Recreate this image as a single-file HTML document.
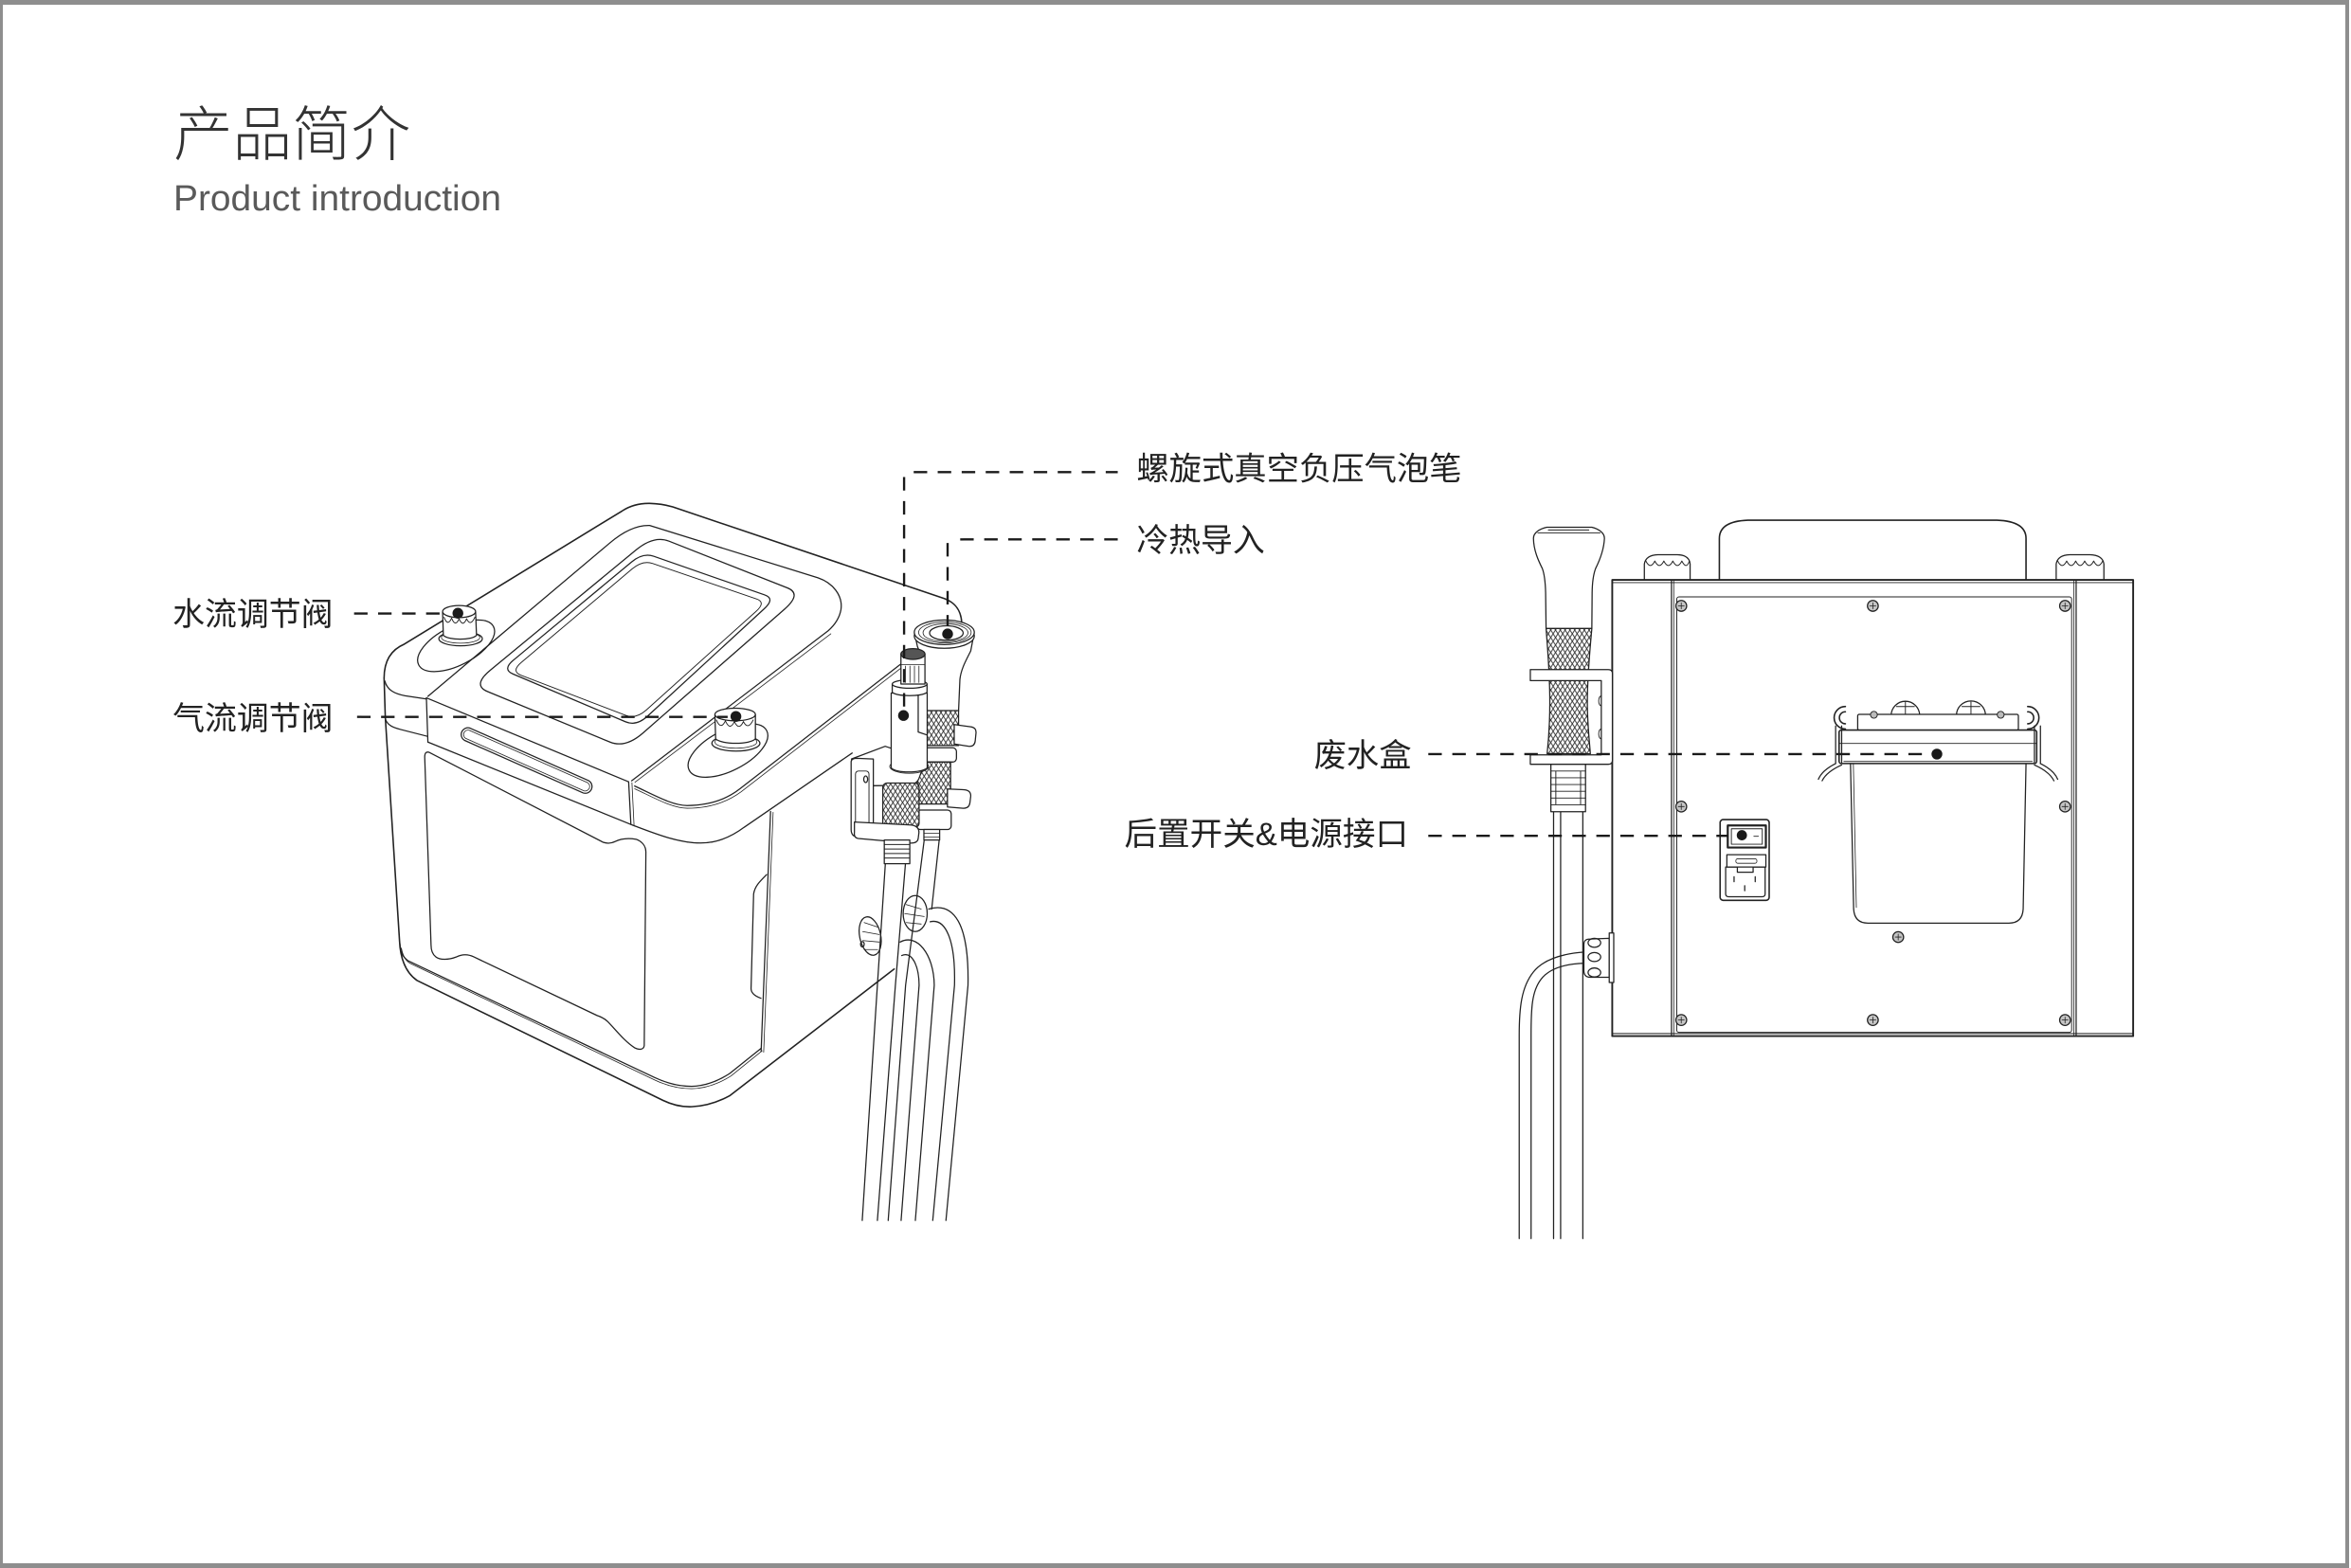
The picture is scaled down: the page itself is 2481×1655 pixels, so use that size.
<!DOCTYPE html>
<html><head><meta charset="utf-8">
<style>
html,body{margin:0;padding:0;background:#fff;}
body{width:2481px;height:1655px;position:relative;overflow:hidden;}
#frame{position:absolute;left:0;top:0;width:2472px;height:1645px;border-top:5px solid #8e8e8e;border-left:3px solid #8e8e8e;border-right:4px solid #8e8e8e;border-bottom:5px solid #8e8e8e;}
svg{position:absolute;left:0;top:0;}
.t{font-family:"Liberation Sans","Noto Sans CJK SC",sans-serif;}
</style></head><body>
<div id="frame"></div>
<svg width="2481" height="1655" viewBox="0 0 1567 1045.3" xmlns="http://www.w3.org/2000/svg">
<defs>
<pattern id="kn" patternUnits="userSpaceOnUse" width="3.2" height="5">
<rect width="3.2" height="5" fill="#fff"/>
<path d="M0 0 L3.2 5 M3.2 0 L0 5" stroke="#333" stroke-width="0.6" fill="none"/>
</pattern>
</defs>

<!-- Titles -->
<text class="t" x="115.6" y="103.5" font-size="40" font-weight="300" fill="#333" textLength="158" lengthAdjust="spacingAndGlyphs">产品简介</text>
<text class="t" x="115.6" y="140.2" font-size="24" fill="#5a5a5a" textLength="218.5" lengthAdjust="spacingAndGlyphs">Product introduction</text>

<!-- Labels -->
<g class="t" font-size="21.5" fill="#222">
<text x="115" y="416.8" textLength="107" lengthAdjust="spacingAndGlyphs">水流调节阀</text>
<text x="115" y="486.5" textLength="107" lengthAdjust="spacingAndGlyphs">气流调节阀</text>
<text x="757.5" y="320" textLength="216.8" lengthAdjust="spacingAndGlyphs">螺旋式真空负压气泡笔</text>
<text x="757.5" y="367.5" textLength="85.5" lengthAdjust="spacingAndGlyphs">冷热导入</text>
<text x="875.8" y="511" textLength="65" lengthAdjust="spacingAndGlyphs">废水盒</text>
<text x="749.4" y="563.5" textLength="189.2" lengthAdjust="spacingAndGlyphs">后置开关&amp;电源接口</text>
</g>

<!-- ============ LEFT DEVICE ============ -->
<g fill="none" stroke="#222" stroke-width="0.8" stroke-linejoin="round" stroke-linecap="round">
<path stroke-width="1" d="M256 452 C256 440 261 433 269.5 429.4 L414.7 340.6 C421 336.5 427 335.5 433 335.6 C438 335.7 443 336.4 448.4 337.9 L629.4 399 C636 401.5 640.5 406 641 415"/>
<path stroke-width="1" d="M256 452 L256.8 478 L266.3 627.3 C266.8 638 270 648 277.9 653.6 L442 733.6 C449 737 455 738 461 737.8 C469 737.5 478 735 486.3 730.5 L596 646"/>
<path d="M266.5 629 C267 635 268.5 638 272 640.5 L436 718.2 C444 722 452 724.2 461 724.2 C470 724 478 721 486.3 715.7 L507.3 698.9"/>
<path stroke-width="0.5" d="M267.5 632 C268.5 637 270 640 273 642 L436.5 720 C444.5 723.8 452 725.8 461 725.8 C470.5 725.6 479 722.5 487.3 717.2 L508 700.5"/>
<path d="M256.5 454 C258 460 263 462.5 270 463.8 L284.2 466"/>
<path d="M256.8 479 C258 483.5 262 485 267 486.3 L284.6 490.8"/>
<path d="M284.2 465.2 L419 521.2"/>
<path d="M285.2 494.7 L420.5 549.6"/>
<path d="M284.2 465.2 L285.2 494.7"/>
<path d="M419 521.2 L420.5 549.6"/>
<path stroke-width="0.5" d="M421.2 521.8 L422.6 550.2"/>
<path d="M313.3 485.4 L392.3 520.4 A4.5 4.5 0 0 1 388.7 528.6 L309.7 493.6 A4.5 4.5 0 0 1 313.3 485.4 Z"/>
<path stroke-width="0.5" d="M312.7 486.8 L391.7 521.8 A3 3 0 0 1 389.3 527.2 L310.3 492.2 A3 3 0 0 1 312.7 486.8 Z"/>
<path d="M285.2 464.2 L406.3 362.1 C414 355.5 423 350 433 350.3 L545.2 385.2 C555 388.5 562 397 560.5 406.5 C559.5 412 556.5 416.5 552 420.5 L421 520.5"/>
<path stroke-width="0.5" d="M553.8 422.5 L423.2 521.5"/>
<path d="M326.8 446.8 L423.7 366.8 Q435.8 356.8 445.7 360.7 L524.8 391.9 Q534.7 395.8 522.9 406.1 L428.6 488.6 Q416.8 498.9 406.6 494.7 L324.9 461 Q314.7 456.8 326.8 446.8 Z"/>
<path d="M342.2 440.1 L421 374.6 Q428.5 368.4 435.6 370.8 L509.7 396.6 Q516.8 399 509.4 405.8 L431.6 477.4 Q424.2 484.2 417 481.2 L341.9 449.3 Q334.7 446.3 342.2 440.1 Z"/>
<path stroke-width="0.6" d="M347.5 441.6 L421.3 379.3 Q428.3 373.4 434.9 375.6 L504.2 399.3 Q510.8 401.5 503.8 407.7 L430.8 473.3 Q423.8 479.5 417.1 476.9 L347.2 450.1 Q340.5 447.5 347.5 441.6 Z"/>
<path d="M423 524 C436 530 448 537 458 537 C472 537 484 533 493 526 L600 443 C615 432 632 422 641 415"/>
<path stroke-width="0.5" d="M423 525.8 C436 531.8 448 538.8 458 538.8 C472 538.8 484.5 534.8 494 527.8 L601 445"/>
<path d="M421 549.8 C436 555.5 452 562 467 562 C478 562 488 557.5 496 551.5 L568 502"/>
<path d="M513.6 541 L507.3 701"/>
<path stroke-width="0.5" d="M515.3 541.5 L509 701.5"/>
<path d="M511 583 C506 588 503 591 502.3 596 L500.6 659 C500.6 662 503 664 507.2 665.5"/>
<path d="M286 501.5 L402 561.5 C405 562.5 408 562 410 561 C414 559 418 558.5 424 559.5 C428 561 430.5 564 430.5 568 L429.4 697 C429 700 426 700 423 698.5 C416 694 410 686 405 681 C403 679 401 678 398 677 L315.8 637.9 C312 636 308 636 304 638 C299 640 293 640 290.5 637.9 C288 636 287.3 633 287.3 630 L283.1 505 C283 502 284 501 286 501.5 Z"/>
<ellipse cx="304" cy="430.5" rx="28" ry="13" transform="rotate(-27 304 430.5)"/>
<ellipse cx="307" cy="425.8" rx="14.5" ry="4.7" fill="#fff"/>
<ellipse cx="307" cy="425" rx="12.8" ry="3.8" stroke-width="0.5"/>
<path fill="#fff" d="M295 408 L295.5 423.5 C299 427 314.5 427 317.6 423.5 L317 408 Z"/>
<ellipse cx="306" cy="407.7" rx="11" ry="4" fill="#fff"/>
<path stroke-width="0.6" d="M296 411.5 Q298.5 418 301 412 Q303.5 418.5 306 412.5 Q308.5 418.5 311 412.5 Q313.5 418 316.5 411.5"/>
<ellipse cx="485.2" cy="500.3" rx="29" ry="13.5" transform="rotate(-27 485.2 500.3)"/>
<ellipse cx="490.5" cy="495.5" rx="16" ry="5.2" fill="#fff"/>
<ellipse cx="490.5" cy="494.6" rx="14" ry="4.2" stroke-width="0.5"/>
<path fill="#fff" d="M476.5 476.5 L477 492.5 C481 496.5 500 496.5 503.5 492.5 L503.5 476.5 Z"/>
<ellipse cx="490" cy="476.3" rx="13.5" ry="4.2" fill="#fff"/>
<path stroke-width="0.6" d="M477.5 480 Q480.5 487 483.5 480.5 Q486.5 487.5 489.5 481 Q492.5 487.5 495.5 481 Q498.5 487 502 480"/>

<ellipse cx="610" cy="609" rx="8" ry="12" fill="#fff"/>
<path stroke-width="0.5" d="M604 603 L614 606 M603 609 L616 611 M604 615 L614 616"/>
<ellipse cx="580" cy="624" rx="7" ry="13" transform="rotate(-12 580 624)" fill="#fff"/>
<path stroke-width="0.5" d="M576 615 L585 618 M575 621 L586 623 M575 627 L586 628 M576 633 L585 633"/>
<ellipse cx="574.8" cy="629.5" rx="1.2" ry="1.8"/>

<path d="M619 606 C636 601 646 616 645.2 656.8 L630.5 813.6"/>
<path d="M620 614.5 C630 612 637 626 636.2 656.8 L621.7 813.6"/>
<path d="M600 628 C611 622 622.5 636 622.7 656.8 L610.1 813.6"/>
<path d="M601 637 C608 634 612.5 644 612.6 656.8 L600.6 813.6"/>
<path d="M616 560 L603.6 656.8 L592 813.6"/>
<path d="M603.5 575.8 L596.8 656.8 L584.8 813.6"/>
<path d="M590.1 575.8 L584.8 656.8 L574.7 813.6"/>
<path d="M626 560 L621 606"/>

<path fill="#fff" d="M609.5 422 L611.5 431 C613.5 436 615.5 441 616 448 L616.8 474 L638.9 474 L639.8 453 C640.5 446 644 440 647 434 L649.3 422 Z"/>
<ellipse cx="629.4" cy="424" rx="20" ry="8.2" fill="#fff"/>
<ellipse cx="629.4" cy="421.5" rx="20" ry="8.2" fill="#fff"/>
<ellipse cx="629.8" cy="421.6" rx="17.5" ry="7" stroke-width="0.5"/>
<ellipse cx="630.2" cy="421.8" rx="15" ry="6" stroke-width="0.5"/>
<ellipse cx="630.8" cy="422" rx="11.2" ry="4.8"/>
<rect x="616.8" y="473.7" width="22.1" height="23.3" fill="url(#kn)"/>
<path fill="#fff" d="M636 483 L647 484.5 Q651 485 650.5 489 L650 494 Q649.5 498 645.5 497.5 L636 496 Z"/>
<rect x="613.5" y="498.5" width="24" height="9.5" rx="2.5" fill="#fff"/>
<rect x="611.5" y="508" width="22.1" height="28" fill="url(#kn)"/>
<path fill="#fff" d="M631.5 526 L643 526.5 Q647.3 527 647 531 L646.5 535 Q646 539 642 538.8 L631.5 538 Z"/>
<rect x="611" y="540" width="23" height="13" rx="2.5" fill="#fff"/>
<rect x="615.8" y="553" width="10.5" height="7" fill="#fff"/>
<path stroke-width="0.5" d="M615.8 555.5 L626.3 555.5 M615.8 558 L626.3 558"/>

<path fill="#fff" d="M567.5 506 L590 497.5 L611 504.5 C616 506 616.5 510 614.5 513.5 L612.5 519 C611 522.5 608 523.5 604 523.5 L582 523.8 Z"/>
<ellipse cx="606" cy="511" rx="13" ry="4.5" stroke-width="0.5"/>
<path fill="#fff" d="M594 462 L594 512 C598 515.5 613 515.5 618 512 L618 462 Z"/>
<path d="M612 463 L612 488 L618 490"/>
<path fill="#fff" d="M594.7 456 L594.7 461.5 C598 464.5 614.5 464.5 617.9 461.5 L617.9 456 Z"/>
<ellipse cx="606.3" cy="456" rx="11.6" ry="2.8" fill="#fff"/>
<rect x="600.5" y="436" width="16" height="20" fill="#fff"/>
<path stroke-width="0.5" d="M600.5 443 L616.5 443 M603.5 444 L603.5 455 M606.5 444 L606.5 455 M609.5 444 L609.5 455 M612.5 444 L612.5 455"/>
<ellipse cx="608.5" cy="436" rx="8" ry="3.6" fill="#555"/>
<rect x="588.4" y="522" width="24.2" height="29.6" rx="3" fill="url(#kn)"/>
<path fill="#fff" d="M567.3 508 L567.3 553 Q567.3 557.9 572 557.9 L582.1 557.9 L582.1 506 L571 505.5 Q567.3 505.5 567.3 508 Z"/>
<rect x="570.2" y="514" width="9" height="38" rx="2" stroke-width="0.6"/>
<ellipse cx="577" cy="519.5" rx="1.3" ry="2.2"/>
<path fill="#fff" d="M569.5 548 L607 550 Q612.5 550.5 612.5 555 L612 559 Q611.5 562.5 606 562 L572 559 Q569 558.5 569.5 555 Z"/>
<rect x="589.4" y="560" width="17" height="15.8" fill="#fff"/>
<path stroke-width="0.6" d="M589.4 563 L606.4 563 M589.4 566 L606.4 566 M589.4 569 L606.4 569 M589.4 572 L606.4 572"/>
</g>

<!-- ============ RIGHT DEVICE ============ -->
<g fill="none" stroke="#222" stroke-width="0.8" stroke-linejoin="round" stroke-linecap="round">
<path stroke-width="1" d="M1146 386.6 L1146 359 Q1146 347.5 1165 346.8 L1331 346.8 Q1350.4 347.5 1350.4 359 L1350.4 386.6"/>
<path fill="#fff" d="M1096 386.6 L1096 376 Q1097 370 1105 369.8 L1118 369.8 Q1126 370 1126.5 376 L1126.5 386.6"/>
<path stroke-width="0.6" d="M1097 374 Q1100 380 1103 374 Q1106 380 1109 374 Q1112 380 1115 374 Q1118 380 1121 374 Q1124 380 1126 374"/>
<path fill="#fff" d="M1370.5 386.6 L1370.5 376 Q1371.5 370 1379.5 369.8 L1393 369.8 Q1401.5 370 1402.3 376 L1402.3 386.6"/>
<path stroke-width="0.6" d="M1371.5 374 Q1374.5 380 1377.5 374 Q1380.5 380 1383.5 374 Q1386.5 380 1389.5 374 Q1392.5 380 1395.5 374 Q1398.5 380 1401.5 374"/>
<rect x="1074.6" y="386.6" width="347.2" height="304.1" stroke-width="1.2" fill="#fff"/>
<path stroke-width="0.6" d="M1074.6 388.4 L1421.8 388.4 M1074.6 689 L1421.8 689"/>
<path d="M1114.1 386.6 L1114.1 690.7 M1383.8 386.6 L1383.8 690.7"/>
<path stroke-width="0.5" d="M1115.6 386.6 L1115.6 690.7 M1382.3 386.6 L1382.3 690.7"/>
<rect x="1117.6" y="397.9" width="263.2" height="290.3" rx="1.5" stroke-width="0.6"/>
<g fill="#c4c4c4" stroke-width="0.8">
<circle cx="1120.6" cy="403.9" r="3.6"/><circle cx="1248.3" cy="403.9" r="3.6"/><circle cx="1376.4" cy="403.9" r="3.6"/>
<circle cx="1120.6" cy="537.7" r="3.6"/><circle cx="1376.4" cy="537.7" r="3.6"/>
<circle cx="1120.6" cy="680" r="3.6"/><circle cx="1248.3" cy="680" r="3.6"/><circle cx="1376.4" cy="680" r="3.6"/>
<circle cx="1265.2" cy="624.7" r="3.6"/>
</g>
<path stroke-width="0.5" d="M1118.6 403.9 h4 M1120.6 401.9 v4 M1246.3 403.9 h4 M1248.3 401.9 v4 M1374.4 403.9 h4 M1376.4 401.9 v4 M1118.6 537.7 h4 M1120.6 535.7 v4 M1374.4 537.7 h4 M1376.4 535.7 v4 M1118.6 680 h4 M1120.6 678 v4 M1246.3 680 h4 M1248.3 678 v4 M1374.4 680 h4 M1376.4 678 v4 M1263.2 624.7 h4 M1265.2 622.7 v4"/>

<!-- waste box -->
<path d="M1233.4 509 L1235.5 606 Q1236 615.4 1245 615.4 L1339 615.4 Q1348 615.4 1348.5 606 L1350.4 509"/>
<path stroke-width="0.5" d="M1235.3 509 L1237.3 605"/>
<path fill="#fff" d="M1260.5 477 A9.5 9.5 0 0 1 1279.5 477 Z M1304 477 A9.7 9.7 0 0 1 1323.4 477 Z"/>
<path stroke-width="0.6" d="M1270 468 L1270 476 M1313.7 468 L1313.7 476 M1264 471 L1276 471 M1307.7 471 L1319.7 471"/>
<rect x="1238.2" y="476.2" width="107.1" height="10.5" rx="1" fill="#fff"/>
<circle cx="1249" cy="476.5" r="2.3" fill="#bbb" stroke-width="0.6"/>
<circle cx="1333.5" cy="476.5" r="2.3" fill="#bbb" stroke-width="0.6"/>
<rect x="1225.8" y="486.7" width="131.7" height="22.3" rx="1.5" fill="#fff" stroke-width="1"/>
<path stroke-width="0.6" d="M1226 495.6 L1357.3 495.6 M1229 507.6 L1354.5 507.6"/>
<path d="M1223.5 484 L1223.5 509 M1227.5 484 L1227.5 509 M1356 484 L1356 509 M1360 484 L1360 509"/>
<path d="M1223.5 509 C1219.5 511 1214 514.5 1212 519.5 M1227.5 510 C1223 512 1217 515.5 1214.5 520.5"/>
<path d="M1360 509 C1364 511 1369.5 514.5 1371.5 519.5 M1356 510 C1360.5 512 1366.5 515.5 1369 520.5"/>
<path stroke-width="1" d="M1230 471 A6 6 0 1 0 1230 486 M1230 474.5 A2.7 2.7 0 1 0 1230 482.5"/>
<path stroke-width="1" d="M1351.5 471 A6 6 0 1 1 1351.5 486 M1351.5 474.5 A2.7 2.7 0 1 1 1351.5 482.5"/>

<!-- switch module -->
<rect x="1146.5" y="546.4" width="32.7" height="53.8" rx="2" stroke-width="1"/>
<rect x="1151.6" y="550.3" width="25.4" height="14.7" stroke-width="1.4"/>
<path stroke-width="0.6" d="M1154 552.5 L1174.6 552.5 L1174.6 562.8 L1154 562.8 Z M1169 557.5 L1172 557.5"/>
<rect x="1151" y="569.8" width="26" height="8.2" stroke-width="0.8"/>
<rect x="1157" y="572.5" width="14" height="3" rx="1.2" stroke-width="0.5"/>
<path stroke-width="0.8" d="M1150.2 578 L1158 578 L1158 581.5 L1168.5 581.5 L1168.5 578 L1176.5 578 L1176.5 596 Q1176.5 597.8 1174.5 597.8 L1152.2 597.8 Q1150.2 597.8 1150.2 596 Z"/>
<path stroke-width="0.8" d="M1155.8 584.5 L1155.8 587.8 M1169.9 584.5 L1169.9 587.8 M1162.9 590.5 L1162.9 593.8"/>

<!-- side pen -->
<path d="M1035.5 541 L1035.5 825.7 M1040.2 541 L1040.2 825.7 M1055 541 L1055 825.7"/>
<path d="M1056 634.7 C1045 635.5 1030 638 1022 648 C1014 658 1012.6 672 1012.6 690 L1012.6 825.7"/>
<path d="M1056 642.1 C1045 642.5 1033 645 1027 653 C1021 661 1020.5 672 1020.5 690 L1020.5 825.7"/>
<path fill="#fff" d="M1072.6 625.5 L1060 626 C1056 626 1055.7 628 1055.7 630 L1055.7 647 C1055.7 650 1057 651.5 1060 651.5 L1072.6 651.5 Z"/>
<rect x="1072.6" y="622" width="3" height="33" fill="#fff"/>
<ellipse cx="1062.7" cy="628.5" rx="4.2" ry="3"/>
<ellipse cx="1062.7" cy="638" rx="4.2" ry="3"/>
<ellipse cx="1062.7" cy="648.3" rx="4.2" ry="3"/>
<path fill="#fff" d="M1031 351.5 L1061 351.5 C1065 352.5 1069.5 355 1069.4 359 C1069 367 1066 374 1063.5 379 C1062 383 1061.3 388 1061.2 395 L1061 419 L1030.5 419 L1030.2 395 C1030 388 1029.5 383 1028 379 C1025.5 374 1022.2 367 1022.1 359 C1022 355 1026.5 352.5 1031 351.5 Z"/>
<path stroke-width="0.6" d="M1025 355.3 L1066.5 355.3 M1032 353.3 L1059 353.3"/>
<path fill="url(#kn)" d="M1030.5 419 L1061 419 C1059.5 435 1058 455 1058 468 C1058 483 1059.5 495 1060 502.5 L1031.2 502.5 C1032 495 1033 483 1033 468 C1033 455 1031.8 435 1030.5 419 Z"/>
<path fill="#fff" d="M1020 446.4 L1072 446.4 Q1074.7 446.4 1074.7 449 L1074.7 507 Q1074.7 509.5 1072 509.5 L1020 509.5 L1020 503.2 L1067.3 503.2 L1067.3 453.7 L1020 453.7 Z"/>
<path stroke-width="0.6" d="M1067.3 464 C1065 464 1065 470.5 1067.3 470.5 M1067.3 486 C1065 486 1065 492.5 1067.3 492.5"/>
<rect x="1033.7" y="509.5" width="23.1" height="31.6" fill="#fff"/>
<path stroke-width="0.6" d="M1033.7 514 L1056.8 514 M1033.7 518.5 L1056.8 518.5 M1033.7 523 L1056.8 523 M1033.7 527.5 L1056.8 527.5 M1033.7 532 L1056.8 532 M1033.7 536.5 L1056.8 536.5 M1037 514 L1037 536.5 M1053.5 514 L1053.5 536.5"/>
</g>

<!-- ============ CALLOUT LINES ============ -->
<g stroke="#1a1a1a" stroke-width="1.5" stroke-dasharray="9 7" fill="none">
<line x1="236" y1="409" x2="300" y2="409"/>
<line x1="238" y1="477.9" x2="485" y2="477.9"/>
<line x1="602.6" y1="318" x2="602.6" y2="471"/>
<line x1="609" y1="314.7" x2="745" y2="314.7"/>
<line x1="631.6" y1="362" x2="631.6" y2="417"/>
<line x1="640" y1="359.6" x2="745" y2="359.6"/>
<line x1="952" y1="502.7" x2="1286" y2="502.7"/>
<line x1="952" y1="557.2" x2="1152" y2="557.2"/>
</g>
<g fill="#1a1a1a">
<circle cx="305.2" cy="408.8" r="3.6"/>
<circle cx="490.5" cy="477.6" r="3.6"/>
<circle cx="602.2" cy="477" r="3.6"/>
<circle cx="631.6" cy="422.6" r="3.6"/>
<circle cx="1291" cy="502.7" r="3.6"/>
<circle cx="1161" cy="556.8" r="3.4"/>
</g>
</svg>
</body></html>
